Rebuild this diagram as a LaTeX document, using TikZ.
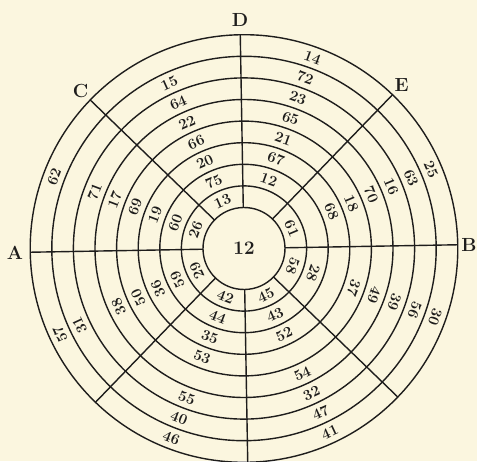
\documentclass[tikz,border=0pt]{standalone}
\usepackage{fontspec}
\usepackage{xcolor}
\usepackage{tikz}
\definecolor{paper}{RGB}{251,246,223}
\definecolor{ink}{RGB}{30,29,28}
\tikzset{
  ring/.style={draw=ink, line width=1.4pt},
  spoke/.style={draw=ink, line width=1.4pt},
  cell/.style={font=\fontsize{15}{16}\selectfont\bfseries,
    text=ink, inner sep=0pt, transform shape},
  hub/.style={font=\fontsize{19}{20}\selectfont\bfseries,
    text=ink, inner sep=0pt, transform shape},
  point/.style={font=\fontsize{19}{20}\selectfont\bfseries, text=ink,
    inner sep=0pt},
}

\begin{document}
\begin{tikzpicture}[x=1pt, y=1pt]
  \fill[paper] (-244,-212.5) rectangle (233,248.5);
  \useasboundingbox (-244,-212.5) rectangle (233,248.5);
  \begin{scope}[rotate=1]
    % circles
    \foreach \k in {0,...,8}
      \draw[ring] (0,0) circle ({41+21.6*\k});
    % spokes
    \foreach \a in {0,45,...,315} {
      \coordinate (in\a) at (\a:41);
      \coordinate (out\a) at (\a:213.8);
      \draw[spoke] (in\a) -- (out\a);
    }
    % letters
    \node[point] (ptA) at (180:229) {A};
    \node[point] (ptB) at (0:225) {B};
    \node[point] (ptC) at (135:227) {C};
    \node[point] (ptD) at (90:228.5) {D};
    \node[point] (ptE) at (45:227) {E};
    % centre
    \node[hub] (hub) at (0,0) {12};
    % numbers, sector by sector (ring/number)
    \foreach \ang/\turn/\cells in {
      158.2/-90/{1/26,2/60,3/19,4/69,5/17,6/71,8/62},
      113.3/-90/{1/13,2/75,3/20,4/66,5/22,6/64,7/15},
      69.3/-90/{2/12,3/67,4/21,5/65,6/23,7/72,8/14},
      21.9/-90/{1/61,3/68,4/18,5/70,6/16,7/63,8/25},
      -20.7/-90/{1/58,2/28,4/37,5/49,6/39,7/56,8/30},
      -66/90/{1/45,2/43,3/52,5/54,6/32,7/47,8/41},
      -112/90/{1/42,2/44,3/35,4/53,6/55,7/40,8/46},
      204/-90/{1/29,2/59,3/36,4/50,5/38,7/31,8/57}}
      \foreach \k/\n in \cells
        \node[cell, rotate=\ang+\turn] (n\n) at (\ang:{30.2+21.6*\k}) {\n};
  \end{scope}
\end{tikzpicture}
\end{document}
